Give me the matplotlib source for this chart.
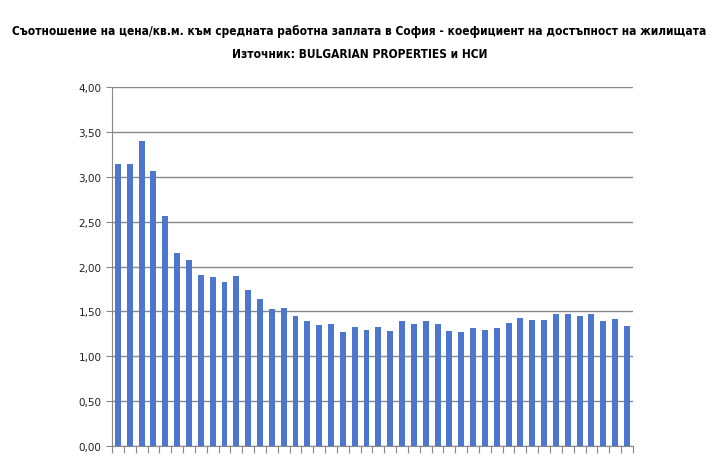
import matplotlib
matplotlib.use("Agg")
import matplotlib.pyplot as plt
import numpy as np
from matplotlib.ticker import FuncFormatter, FixedLocator

# Съотношение цена/кв.м. към средната заплата, по периоди (44 стойности)
ratio = [3.14, 3.14, 3.40, 3.06, 2.56, 2.15, 2.07, 1.91, 1.88, 1.83, 1.89,
         1.74, 1.64, 1.53, 1.54, 1.45, 1.39, 1.35, 1.36, 1.27, 1.33, 1.29,
         1.33, 1.28, 1.39, 1.36, 1.39, 1.36, 1.28, 1.27, 1.31, 1.29, 1.32,
         1.37, 1.43, 1.40, 1.40, 1.47, 1.47, 1.45, 1.47, 1.39, 1.42, 1.34]
y_ticks = [0, 0.5, 1.0, 1.5, 2.0, 2.5, 3.0, 3.5, 4.0]

title = ("Съотношение на цена/кв.м. към средната работна заплата в София - "
         "коефициент на достъпност на жилищата")
subtitle = "Източник: BULGARIAN PROPERTIES и НСИ"

plt.rcParams['font.family'] = ['DejaVu Sans']

fig = plt.figure(figsize=(7.19, 4.64), dpi=100)
ax = fig.add_axes([0.1558, 0.0366, 0.7244, 0.7737])

x = np.arange(len(ratio))
ax.bar(x, ratio, width=0.5, color='#4d76cd', zorder=3)

ax.set_xlim(-0.5, len(ratio) - 0.5)
ax.set_ylim(0, 4)
ax.yaxis.set_major_locator(FixedLocator(y_ticks))
ax.yaxis.set_major_formatter(FuncFormatter(lambda v, p: f"{v:.2f}".replace(".", ",")))
ax.grid(axis='y', color='#888888', linewidth=1, zorder=0)

# деления по оста X между категориите, без надписи
ax.set_xticks(np.arange(-0.5, len(ratio), 1))
ax.set_xticklabels([])
ax.tick_params(axis='x', direction='out', length=5, color='#888888')
ax.tick_params(axis='y', direction='out', length=4, color='#888888',
               labelsize=7.5, labelcolor='#222222')

for side in ['top', 'right']:
    ax.spines[side].set_visible(False)
for side in ['left', 'bottom']:
    ax.spines[side].set_color('#888888')

fig.text(0.5, 1 - 31 / 464, title, ha='center', va='center', fontsize=8.6,
         fontweight='bold', fontstretch='condensed')
fig.text(0.5, 1 - 54 / 464, subtitle, ha='center', va='center', fontsize=8.6,
         fontweight='bold', fontstretch='condensed')

plt.savefig('out.png', dpi=100)
